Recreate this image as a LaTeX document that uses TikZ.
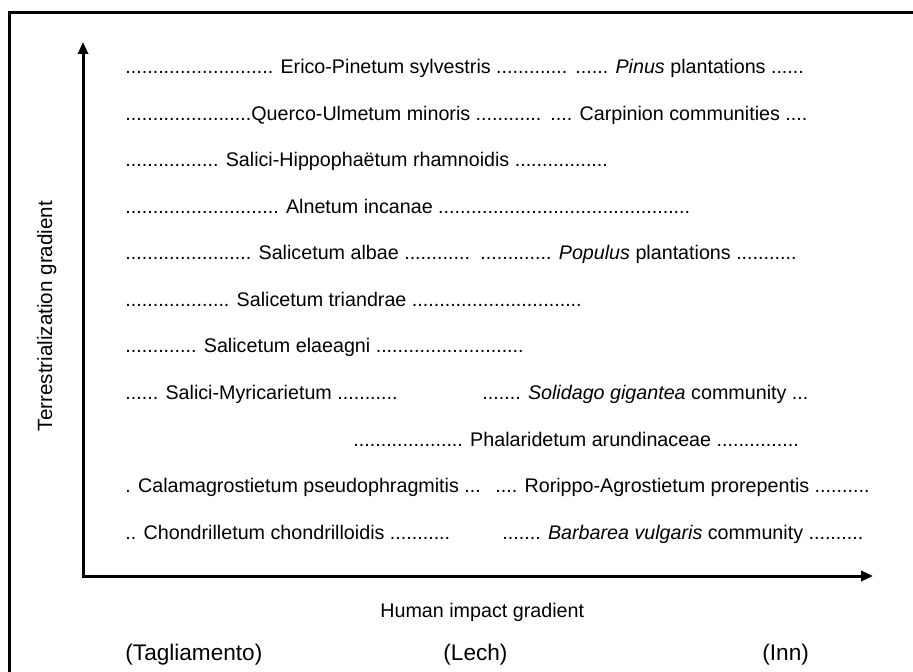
\documentclass[tikz,border=0pt]{standalone}
\usepackage{fontspec}
\setmainfont{Liberation Sans}
\usetikzlibrary{arrows.meta}
\tikzset{
  veg/.style={anchor=base west, inner sep=0pt, font=\fontsize{9.85}{12}\selectfont},
  river/.style={anchor=base west, inner sep=0pt, font=\fontsize{11.3}{13}\selectfont},
  axis/.style={line width=1.5pt, {Triangle[length=6pt, width=5pt]}-{Triangle[length=6pt, width=5pt]}},
}

\begin{document}
\begin{tikzpicture}[x=0.5pt, y=-0.5pt]
    \useasboundingbox (0,0) rectangle (913,672);
    % frame, cut off on the right and at the bottom
    \draw[line width=1.2pt] (9.5,672) -- (9.5,12.5) -- (913,12.5);

    % axes
    \coordinate (origin) at (83,576);
    \coordinate (ytip) at (83,42);
    \coordinate (xtip) at (873,576);
    \draw[axis] (ytip) -- (origin) -- (xtip);

    % communities, from dry to wet
    \node[veg] (erico) at (125,74) {........................... Erico-Pinetum sylvestris .............};
    \node[veg] (pinus) at (575,74) {...... \textit{Pinus} plantations ......};

    \node[veg] (querco) at (125,120.5) {.......................Querco-Ulmetum minoris ............};
    \node[veg] (carpinion) at (550,120.5) {.... Carpinion communities ....};

    \node[veg] (hippophae) at (125,167) {................. Salici-Hippophaëtum rhamnoidis .................};

    \node[veg] (alnetum) at (125,213.5) {............................ Alnetum incanae ..............................................};

    \node[veg] (albae) at (125,260) {....................... Salicetum albae ............};
    \node[veg] (populus) at (480,260) {............. \textit{Populus} plantations ...........};

    \node[veg] (triandrae) at (125,306.5) {................... Salicetum triandrae ...............................};

    \node[veg] (elaeagni) at (125,353) {............. Salicetum elaeagni ...........................};

    \node[veg] (myricaria) at (125,399.5) {...... Salici-Myricarietum ...........};
    \node[veg] (solidago) at (482,399.5) {....... \textit{Solidago gigantea} community ...};

    \node[veg] (phalaris) at (353,446) {.................... Phalaridetum arundinaceae ...............};

    \node[veg] (calamagrostis) at (125,492.5) {. Calamagrostietum pseudophragmitis ...};
    \node[veg] (rorippa) at (495,492.5) {.... Rorippo-Agrostietum prorepentis ..........};

    \node[veg] (chondrilla) at (125,539) {.. Chondrilletum chondrilloidis ...........};
    \node[veg] (barbarea) at (502,539) {....... \textit{Barbarea vulgaris} community ..........};

    % axis titles and rivers
    \node[veg, anchor=base, rotate=90, font=\fontsize{10.3}{12}\selectfont] (ylabel) at (52,316) {Terrestrialization gradient};
    \node[veg] (xlabel) at (380,617) {Human impact gradient};
    \node[river] (tagliamento) at (125,660) {(Tagliamento)};
    \node[river] (lech) at (443,660) {(Lech)};
    \node[river] (inn) at (762,660) {(Inn)};
\end{tikzpicture}
\end{document}
